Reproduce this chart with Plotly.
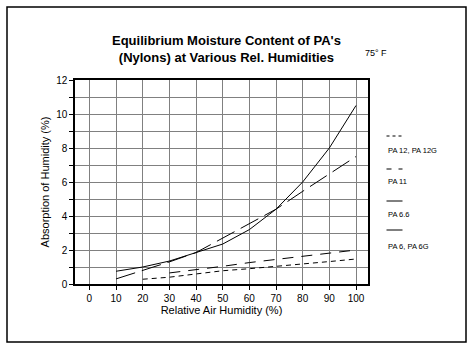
import plotly.graph_objects as go

humidity_pa12 = [20, 30, 40, 50, 60, 70, 80, 90, 100]
pa12 = [0.28, 0.4, 0.59, 0.78, 0.9, 1.02, 1.18, 1.32, 1.47]

humidity_pa11 = [30, 40, 50, 60, 70, 80, 90, 100]
pa11 = [0.65, 0.83, 1.04, 1.26, 1.45, 1.63, 1.83, 2.0]

humidity_pa66 = [10, 20, 30, 40, 50, 60, 70, 80, 90, 100]
pa66 = [0.3, 0.78, 1.3, 1.85, 2.7, 3.55, 4.4, 5.45, 6.5, 7.5]

humidity_pa6 = [10, 20, 30, 40, 50, 60, 70, 80, 90, 100]
pa6 = [0.75, 1.0, 1.35, 1.85, 2.35, 3.2, 4.4, 6.0, 8.0, 10.5]

legend_labels = ["PA 12, PA 12G", "PA 11", "PA 6.6", "PA 6, PA 6G"]
x_ticks = [0, 10, 20, 30, 40, 50, 60, 70, 80, 90, 100]
y_ticks = [0, 2, 4, 6, 8, 10, 12]

FONT = "Arial, Liberation Sans, sans-serif"

fig = go.Figure()
fig.add_trace(go.Scatter(x=humidity_pa12, y=pa12, mode="lines",
                         line=dict(color="black", width=1, dash="5px,4px")))
fig.add_trace(go.Scatter(x=humidity_pa11, y=pa11, mode="lines",
                         line=dict(color="black", width=1, dash="11px,8px")))
fig.add_trace(go.Scatter(x=humidity_pa66, y=pa66, mode="lines",
                         line=dict(color="black", width=1, dash="20px,7px")))
fig.add_trace(go.Scatter(x=humidity_pa6, y=pa6, mode="lines",
                         line=dict(color="black", width=1)))

W, H = 476, 353
L, R, T, B = 75, 368, 80, 284
pw, ph = R - L, B - T

def px(x):
    return (x - L) / pw

def py(y):
    return (B - y) / ph

shapes = []
# outer frame
shapes.append(dict(type="rect", xref="paper", yref="paper",
                   x0=px(7), x1=px(466), y0=py(342), y1=py(7),
                   line=dict(color="black", width=1.5)))
# legend samples
leg_line_y = [136, 169, 201, 230]
leg_text_y = [150, 181, 214, 246]
leg_dash = ["3px,3px", "5px,7px", "solid", "solid"]
annotations = []
for lab, ly, ty, d in zip(legend_labels, leg_line_y, leg_text_y, leg_dash):
    shapes.append(dict(type="line", xref="paper", yref="paper",
                       x0=px(386.5), x1=px(402.5), y0=py(ly), y1=py(ly),
                       line=dict(color="black", width=1, dash=d)))
    annotations.append(dict(text=lab, xref="paper", yref="paper",
                            x=px(386), y=py(ty), xanchor="left", yanchor="middle",
                            showarrow=False, font=dict(size=7.5, color="black", family=FONT)))

annotations.append(dict(text="<b>Equilibrium Moisture Content of PA's<br>(Nylons) at Various Rel. Humidities</b>",
                        xref="paper", yref="paper", x=px(227), y=py(49),
                        xanchor="center", yanchor="middle", showarrow=False,
                        font=dict(size=13, color="black", family=FONT)))
annotations.append(dict(text="75° F", xref="paper", yref="paper", x=px(376), y=py(53),
                        xanchor="center", yanchor="middle", showarrow=False,
                        font=dict(size=9, color="black", family=FONT)))

fig.update_layout(
    width=W, height=H,
    margin=dict(l=L, r=W - R, t=T, b=H - B),
    paper_bgcolor="white", plot_bgcolor="white",
    showlegend=False,
    font=dict(family=FONT, size=10, color="black"),
    shapes=shapes, annotations=annotations,
    xaxis=dict(range=[-5.4, 104.5], tickvals=x_ticks, ticktext=[str(v) for v in x_ticks],
               showgrid=True, gridcolor="#808080", gridwidth=1,
               ticks="outside", ticklen=4, tickcolor="black",
               showline=True, linecolor="black", linewidth=1.5, mirror=True,
               zeroline=False, tickfont=dict(size=10),
               title=dict(text="Relative Air Humidity (%)", font=dict(size=11), standoff=2)),
    yaxis=dict(range=[0, 12], tickvals=y_ticks, ticktext=[str(v) for v in y_ticks],
               showgrid=True, gridcolor="#808080", gridwidth=1,
               minor=dict(dtick=1, showgrid=True, gridcolor="#808080", gridwidth=1,
                          ticks="outside", ticklen=4, tickcolor="black"),
               ticks="outside", ticklen=4, tickcolor="black",
               showline=True, linecolor="black", linewidth=1.5, mirror=True,
               zeroline=False, tickfont=dict(size=10),
               title=dict(text="Absorption of Humidity (%)", font=dict(size=11), standoff=4)),
)

fig.write_html("out.html")
